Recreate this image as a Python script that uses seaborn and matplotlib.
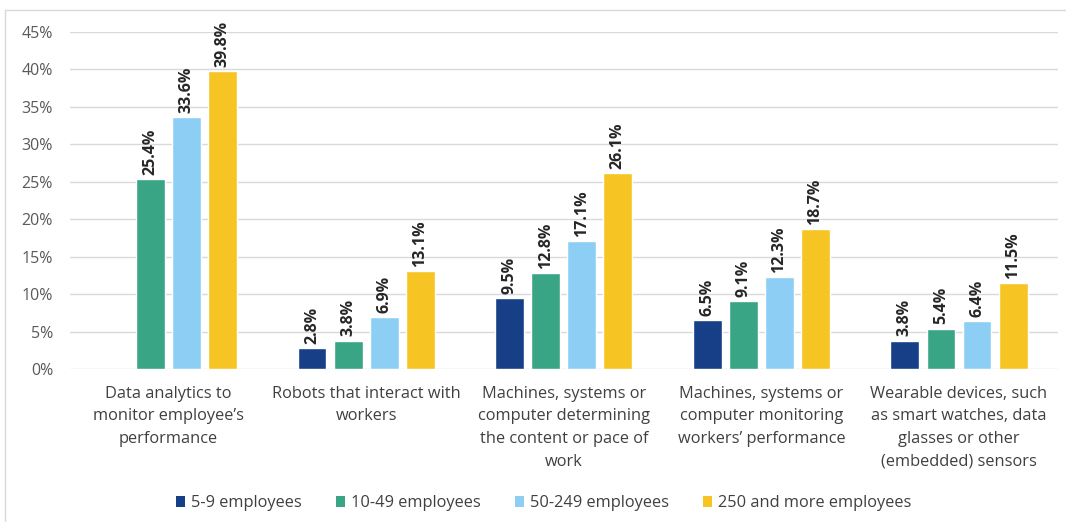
import numpy as np
import pandas as pd
import matplotlib
matplotlib.use("Agg")
import matplotlib.pyplot as plt
from matplotlib.patches import Patch
from matplotlib.lines import Line2D
import seaborn as sns

# Share of workplaces using each technology, by company size (%)
categories = [
    "Data analytics to\nmonitor employee\u2019s\nperformance",
    "Robots that interact with\nworkers",
    "Machines, systems or\ncomputer determining\nthe content or pace of\nwork",
    "Machines, systems or\ncomputer monitoring\nworkers\u2019 performance",
    "Wearable devices, such\nas smart watches, data\nglasses or other\n(embedded) sensors",
]
size_groups = ["5-9 employees", "10-49 employees", "50-249 employees", "250 and more employees"]
size_5_9 = [np.nan, 2.8, 9.5, 6.5, 3.8]
size_10_49 = [25.4, 3.8, 12.8, 9.1, 5.4]
size_50_249 = [33.6, 6.9, 17.1, 12.3, 6.4]
size_250_plus = [39.8, 13.1, 26.1, 18.7, 11.5]
y_ticks = [0, 5, 10, 15, 20, 25, 30, 35, 40, 45]

colors = ["#173F87", "#3AA585", "#8DCFF4", "#F6C523"]

series = [size_5_9, size_10_49, size_50_249, size_250_plus]
df = pd.DataFrame(
    [(cat, grp, val) for grp, vals in zip(size_groups, series) for cat, val in zip(categories, vals)],
    columns=["category", "size", "value"],
)

sns.set_theme(style="white")
plt.rcParams["font.family"] = ["Open Sans", "DejaVu Sans"]

fig = plt.figure(figsize=(10.66, 5.22), dpi=100)
ax = fig.add_axes([0.0654, 0.293, 0.9269, 0.646])

sns.barplot(
    data=df, x="category", y="value", hue="size",
    order=categories, hue_order=size_groups, palette=colors,
    width=0.73, gap=0.2, saturation=1, legend=False, ax=ax,
)

ax.set_ylim(0, 45)
ax.set_xlim(-0.5, len(categories) - 0.5)
ax.set_yticks(y_ticks)
ax.set_yticklabels([f"{t}%" for t in y_ticks], color="#595959", fontsize=11.5)
ax.tick_params(axis="x", length=0, pad=12, labelsize=11.8, labelcolor="#404040")
ax.tick_params(axis="y", length=0, pad=12)
for lbl in ax.get_xticklabels():
    lbl.set_linespacing(1.55)
ax.set_xlabel("")
ax.set_ylabel("")
ax.yaxis.grid(True, color="#D9D9D9", linewidth=1)
ax.set_axisbelow(True)
for s in ax.spines.values():
    s.set_visible(False)

for cont in ax.containers:
    labels = ["" if np.isnan(v) else f"{v:.1f}%" for v in cont.datavalues]
    ax.bar_label(cont, labels=labels, rotation=90, padding=3,
                 fontsize=11.5, fontweight="bold", color="#262626")

handles = [Patch(facecolor=c, edgecolor="none") for c in colors]
fig.legend(handles, size_groups, loc="center", bbox_to_anchor=(0.51, 0.036),
           ncol=4, frameon=False, fontsize=11.8, labelcolor="#404040",
           handlelength=0.55, handleheight=0.6, handletextpad=0.35, columnspacing=2.1)

# Light frame along top and left edges
fig.add_artist(Line2D([0.005, 1.0], [0.981, 0.981], transform=fig.transFigure, color="#D9D9D9", lw=1))
fig.add_artist(Line2D([0.005, 0.005], [0.0, 0.981], transform=fig.transFigure, color="#D9D9D9", lw=1))

fig.savefig("out.png", dpi=100, facecolor="white")
